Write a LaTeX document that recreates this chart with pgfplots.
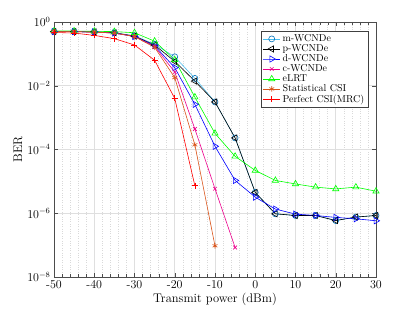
\documentclass[border=0pt]{standalone}
\usepackage{pgfplots}
\pgfplotsset{compat=1.18}
\definecolor{mblue}{rgb}{0.301,0.745,0.933}
\definecolor{mbluedark}{rgb}{0,0.447,0.741}
\definecolor{morange}{rgb}{0.85,0.325,0.098}
\begin{document}
\begin{tikzpicture}
\begin{axis}[
  scale only axis, width=322pt, height=255pt,
  ymode=log, xmin=-50, xmax=30, ymin=1e-8, ymax=1,
  xtick={-50,-40,...,30}, ytick={1,1e-2,1e-4,1e-6,1e-8},
  minor x tick num=4,
  grid=both,
  major grid style={gray!25, line width=0.5pt},
  minor grid style={gray!30, dotted, line width=0.5pt},
  axis line style={gray!60!black, line width=0.6pt},
  tick style={gray!60!black},
  tick align=inside,
  xticklabel style={font=\fontsize{12}{14}\selectfont, /pgf/number format/assume math mode=true},
  yticklabel style={font=\fontsize{12}{14}\selectfont},
  label style={font=\fontsize{12.5}{15}\selectfont},
  xlabel={Transmit power (dBm)}, ylabel={BER},
  xlabel style={yshift=3pt}, ylabel style={yshift=-2pt},
  legend style={at={(0.975,0.965)}, anchor=north east, font=\fontsize{10}{11}\selectfont,
    draw=gray!50!black, fill=white, inner sep=1.5pt, row sep=-2.5pt,
    cells={anchor=west}},
  legend cell align=left,
  every axis plot/.append style={line width=0.6pt},
  mark size=3pt,
]
\addplot[draw=mblue, mark=o, mark options={draw=mbluedark, fill=none}] coordinates {
(-50,0.5) (-45,0.5) (-40,0.49) (-35,0.46) (-30,0.37) (-25,0.2) (-20,0.081) (-15,0.017) (-10,0.0031) (-5,2.3e-4) (0,4.5e-6) (5,9.6e-7) (10,8.5e-7) (15,8.5e-7) (20,5.9e-7) (25,7.6e-7) (30,8.5e-7)};
\addlegendentry{m-WCNDe}
\addplot[draw=black, mark=triangle, mark size=3.6pt, mark options={rotate=90, draw=black, fill=none}] coordinates {
(-50,0.5) (-45,0.5) (-40,0.49) (-35,0.46) (-30,0.36) (-25,0.19) (-20,0.058) (-15,0.014) (-10,0.0031) (-5,2.3e-4) (0,4.5e-6) (5,9.6e-7) (10,8.5e-7) (15,8.5e-7) (20,5.9e-7) (25,7.6e-7) (30,8.5e-7)};
\addlegendentry{p-WCNDe}
\addplot[draw=blue, mark=triangle, mark size=3.6pt, mark options={rotate=-90, draw=blue, fill=none}] coordinates {
(-50,0.5) (-45,0.5) (-40,0.49) (-35,0.45) (-30,0.35) (-25,0.18) (-20,0.037) (-15,0.0026) (-10,1.26e-4) (-5,1.07e-5) (0,3.2e-6) (5,1.35e-6) (10,9.4e-7) (15,8.5e-7) (20,7.4e-7) (25,6.7e-7) (30,5.8e-7)};
\addlegendentry{d-WCNDe}
\addplot[draw=magenta, mark=x, mark size=2.6pt, mark options={draw=magenta}] coordinates {
(-50,0.5) (-45,0.5) (-40,0.48) (-35,0.45) (-30,0.35) (-25,0.17) (-20,0.027) (-15,4.4e-4) (-10,5.9e-6) (-5,8.4e-8)};
\addlegendentry{c-WCNDe}
\addplot[draw=green, mark=triangle, mark size=3.6pt, mark options={draw=green, fill=none}] coordinates {
(-50,0.52) (-45,0.52) (-40,0.51) (-35,0.5) (-30,0.46) (-25,0.25) (-20,0.065) (-15,0.0044) (-10,3.2e-4) (-5,6.1e-5) (0,2.2e-5) (5,1.07e-5) (10,8.3e-6) (15,6.6e-6) (20,5.8e-6) (25,6.6e-6) (30,4.9e-6)};
\addlegendentry{eLRT}
\addplot[draw=morange, mark=asterisk, mark size=2.8pt, mark options={draw=morange}] coordinates {
(-50,0.5) (-45,0.5) (-40,0.48) (-35,0.45) (-30,0.35) (-25,0.16) (-20,0.018) (-15,1.4e-4) (-10,9.5e-8)};
\addlegendentry{Statistical CSI}
\addplot[draw=red, mark=+, mark size=3pt, mark options={draw=red}] coordinates {
(-50,0.47) (-45,0.45) (-40,0.38) (-35,0.3) (-30,0.19) (-25,0.063) (-20,0.004) (-15,7.3e-6)};
\addlegendentry{Perfect CSI(MRC)}
\end{axis}
\path[use as bounding box] ([xshift=-54pt,yshift=-35pt]current axis.south west) rectangle ([xshift=39pt,yshift=22pt]current axis.north east);
\end{tikzpicture}
\end{document}
